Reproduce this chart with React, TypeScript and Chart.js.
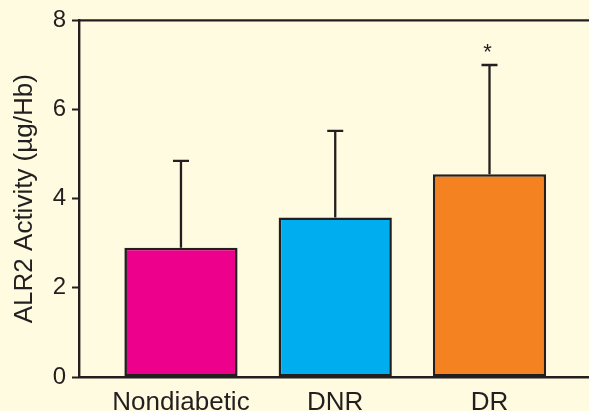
import React, { useEffect, useRef } from "react";
import { Chart, registerables } from "chart.js";

Chart.register(...registerables);

const categories = ["Nondiabetic", "DNR", "DR"];
const meanValues = [2.9, 3.58, 4.55];
const errorTops = [4.85, 5.52, 7.0];
const significance = ["", "", "*"];
const barColors = ["#ec008c", "#00aeef", "#f58220"];
const yTicks = [0, 2, 4, 6, 8];

const INK = "#231f20";
const BG = "#fefbe0";

const extrasPlugin = {
  id: "extras",
  beforeDraw(chart: any) {
    const { ctx, width, height } = chart;
    ctx.save();
    ctx.fillStyle = BG;
    ctx.fillRect(0, 0, width, height);
    ctx.restore();
  },
  afterDatasetsDraw(chart: any) {
    const { ctx, chartArea, scales } = chart;
    const xs = scales.x;
    const ys = scales.y;
    ctx.save();
    ctx.strokeStyle = INK;
    ctx.lineWidth = 2.4;
    ctx.beginPath();
    ctx.moveTo(chartArea.left, chartArea.top);
    ctx.lineTo(chartArea.right, chartArea.top);
    ctx.stroke();
    ctx.lineWidth = 2.3;
    meanValues.forEach((v, i) => {
      const x = xs.getPixelForValue(i + 1);
      const y0 = ys.getPixelForValue(v);
      const y1 = ys.getPixelForValue(errorTops[i]);
      ctx.beginPath();
      ctx.moveTo(x, y0);
      ctx.lineTo(x, y1);
      ctx.moveTo(x - 8, y1);
      ctx.lineTo(x + 8, y1);
      ctx.stroke();
      if (significance[i]) {
        ctx.fillStyle = INK;
        ctx.font = "22px 'Liberation Sans', Arial, sans-serif";
        ctx.textAlign = "center";
        ctx.textBaseline = "middle";
        ctx.fillText(significance[i], x - 2, y1 - 12);
      }
    });
    ctx.restore();
  },
};

export default function App() {
  const ref = useRef<HTMLCanvasElement | null>(null);
  useEffect(() => {
    if (!ref.current) return;
    const chart = new Chart(ref.current, {
      type: "bar",
      data: {
        datasets: [
          {
            data: meanValues.map((v, i) => ({ x: i + 1, y: v })),
            backgroundColor: barColors,
            borderColor: INK,
            borderWidth: 2.6,
            borderSkipped: false,
            barPercentage: 0.734,
            categoryPercentage: 1,
          },
        ],
      },
      options: {
        responsive: false,
        animation: false,
        events: [],
        layout: { padding: { top: 19, right: 0, left: 0, bottom: 0 } },
        plugins: { legend: { display: false }, tooltip: { enabled: false } },
        scales: {
          x: {
            type: "linear",
            min: 0.339,
            max: 3.645,
            offset: false,
            grid: { display: false, drawTicks: false, offset: false },
            border: { display: true, color: INK, width: 2.4 },
            afterBuildTicks: (s: any) => {
              s.ticks = categories.map((_, i) => ({ value: i + 1 }));
            },
            afterFit: (s: any) => {
              s.height = 34;
            },
            ticks: {
              autoSkip: false,
              maxRotation: 0,
              padding: 10,
              color: INK,
              font: { family: "'Liberation Sans', Arial, sans-serif", size: 26 },
              callback: (v: any) => categories[Math.round(Number(v)) - 1] ?? "",
            },
          },
          y: {
            min: 0,
            max: 8,
            afterBuildTicks: (s: any) => {
              s.ticks = yTicks.map((v) => ({ value: v }));
            },
            afterFit: (s: any) => {
              s.width = 79;
            },
            grid: {
              drawOnChartArea: false,
              drawTicks: true,
              tickLength: 7,
              tickWidth: 2,
              tickColor: INK,
            },
            border: { display: true, color: INK, width: 2.4 },
            ticks: {
              padding: 6,
              color: INK,
              font: { family: "'Liberation Sans', Arial, sans-serif", size: 24 },
            },
            title: {
              display: true,
              text: "ALR2 Activity (µg/Hb)",
              color: INK,
              padding: { top: 9, bottom: 0 },
              font: { family: "'Liberation Sans', Arial, sans-serif", size: 26 },
            },
          },
        },
      },
      plugins: [extrasPlugin],
    } as any);
    return () => chart.destroy();
  }, []);
  return (
    <div style={{ position: "fixed", left: 0, top: 0, width: 589, height: 411, background: BG }}>
      <canvas ref={ref} width={589} height={411} style={{ display: "block" }} />
    </div>
  );
}
